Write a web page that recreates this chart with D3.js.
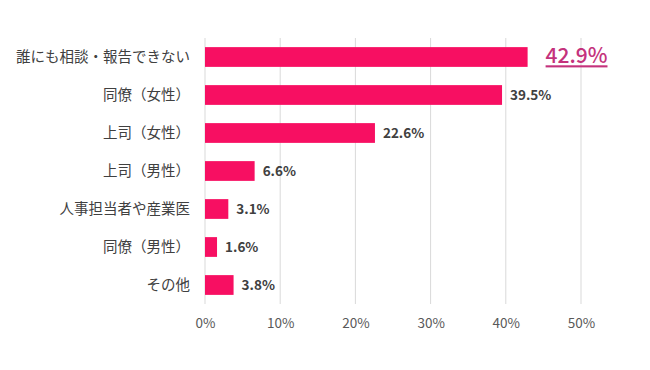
<!DOCTYPE html>
<html>
<head>
<meta charset="utf-8">
<script src="https://cdn.jsdelivr.net/npm/d3@7"></script>
<style>
  body { margin: 0; background: #fff; }
  svg text { font-family: "Noto Sans CJK JP", "Noto Sans", sans-serif; }
</style>
</head>
<body>
<div id="chart"></div>
<script>
var categories = ["誰にも相談・報告できない", "同僚（女性）", "上司（女性）", "上司（男性）", "人事担当者や産業医", "同僚（男性）", "その他"];
var values = [42.9, 39.5, 22.6, 6.6, 3.1, 1.6, 3.8];
var ticks = [0, 10, 20, 30, 40, 50];

var width = 650, height = 370;
var margin = { top: 38, right: 69, bottom: 66, left: 205 };
var innerW = width - margin.left - margin.right,
  innerH = height - margin.top - margin.bottom;

var svg = d3.select("#chart")
  .append("svg")
  .attr("width", width)
  .attr("height", height)
  .append("g")
  .attr("transform", "translate(" + margin.left + "," + margin.top + ")");

var x = d3.scaleLinear().domain([0, 50]).range([0, 376]);
var y = d3.scaleBand().domain(categories).range([0, innerH]).paddingInner(0.48).paddingOuter(0.24);

// grid
svg.append("g").selectAll("line")
  .data(ticks)
  .enter().append("line")
  .attr("x1", d => x(d))
  .attr("x2", d => x(d))
  .attr("y1", 0)
  .attr("y2", innerH)
  .attr("stroke", "#d9d9d9")
  .attr("stroke-width", 1);

// x axis labels
var xAxis = d3.axisBottom(x).tickValues(ticks).tickSize(0).tickPadding(14).tickFormat(d => d + "%");
svg.append("g")
  .attr("transform", "translate(0," + innerH + ")")
  .call(xAxis)
  .call(g => g.select(".domain").remove())
  .selectAll("text")
  .attr("fill", "#595959")
  .style("font-size", "13.5px");

// y labels
var yAxis = d3.axisLeft(y).tickSize(0).tickPadding(15);
svg.append("g")
  .call(yAxis)
  .call(g => g.select(".domain").remove())
  .selectAll("text")
  .attr("fill", "#404040")
  .style("font-size", "14.5px");

// bars
svg.append("g").selectAll("rect")
  .data(values)
  .enter().append("rect")
  .attr("x", 0)
  .attr("y", (d, i) => y(categories[i]))
  .attr("width", d => x(d))
  .attr("height", y.bandwidth())
  .attr("fill", "#f70f62");

// value labels
svg.append("g").selectAll("text")
  .data(values)
  .enter().append("text")
  .attr("x", (d, i) => x(d) + (i == 0 ? 18 : 8))
  .attr("y", (d, i) => y(categories[i]) + y.bandwidth() / 2)
  .attr("dy", (d, i) => i == 0 ? "0.3em" : "0.36em")
  .attr("fill", (d, i) => i == 0 ? "#c4327c" : "#404040")
  .style("font-size", (d, i) => i == 0 ? "21px" : "13.5px")
  .style("font-weight", (d, i) => i == 0 ? "500" : "600")
  .style("text-decoration", (d, i) => i == 0 ? "underline" : "none")
  .text(d => d.toFixed(1) + "%");
</script>
</body>
</html>
